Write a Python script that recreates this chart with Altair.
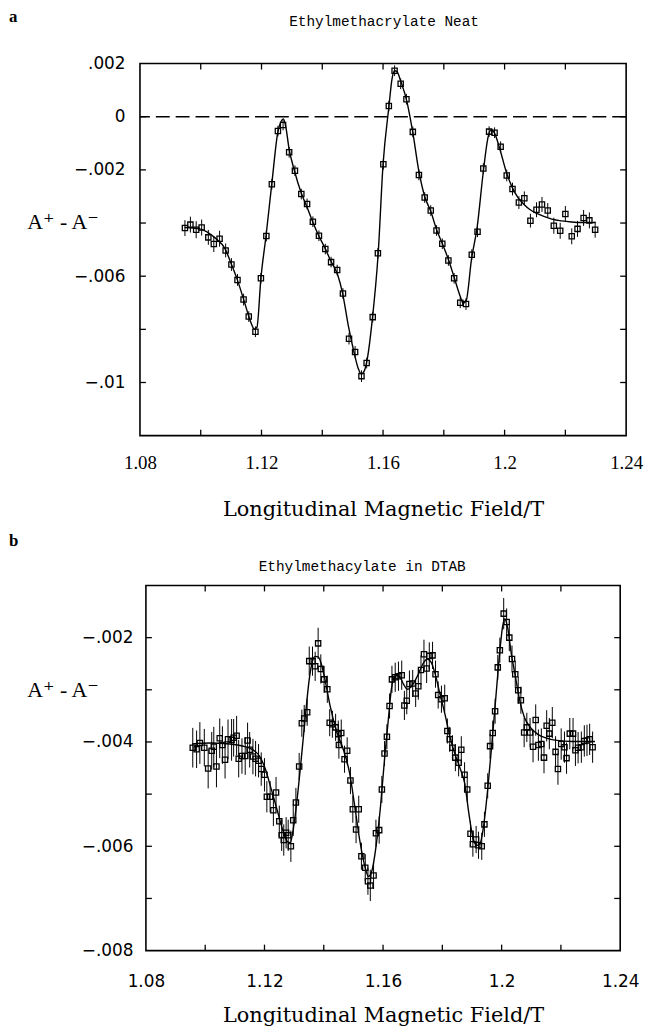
import altair as alt
import pandas as pd

# ---------------- Panel a : Ethylmethacrylate Neat ----------------
a_field = [1.0948,1.0966,1.0985,1.1003,1.1025,1.1043,1.1062,1.1082,1.1101,1.1121,
           1.1141,1.1158,1.1180,1.1198,1.1216,1.1234,1.1254,1.1271,1.1291,1.1310,
           1.1331,1.1350,1.1369,1.1389,1.1410,1.1429,1.1449,1.1468,1.1488,1.1508,
           1.1529,1.1546,1.1566,1.1583,1.1601,1.1619,1.1638,1.1658,1.1677,1.1698,
           1.1718,1.1737,1.1757,1.1776,1.1795,1.1815,1.1834,1.1854,1.1873,1.1892,
           1.1911,1.1930,1.1949,1.1967,1.1987,1.2007,1.2026,1.2047,1.2065,1.2085,
           1.2105,1.2123,1.2142,1.2162,1.2183,1.2200,1.2221,1.2240,1.2260,1.2279,
           1.2298]
a_value = [-0.00419,-0.00406,-0.00425,-0.00417,-0.00454,-0.00479,-0.00459,-0.00503,-0.00556,-0.00614,
           -0.00688,-0.00752,-0.00809,-0.00608,-0.00449,-0.00254,-0.00054,-0.00031,-0.00134,-0.00203,
           -0.00291,-0.00328,-0.00395,-0.00448,-0.00498,-0.00547,-0.00577,-0.00665,-0.00835,-0.00885,
           -0.00976,-0.00927,-0.00754,-0.00514,-0.00179,0.00040,0.00173,0.00124,0.00066,-0.00057,
           -0.00219,-0.00304,-0.00353,-0.00428,-0.00478,-0.00541,-0.00608,-0.00700,-0.00705,-0.00519,
           -0.00433,-0.00195,-0.00056,-0.00060,-0.00113,-0.00221,-0.00272,-0.00323,-0.00307,-0.00391,
           -0.00350,-0.00330,-0.00353,-0.00410,-0.00429,-0.00366,-0.00450,-0.00422,-0.00381,-0.00390,
           -0.00425]
a_error = [0.0003,0.0003,0.00032,0.0003,0.00028,0.0003,0.0003,0.00026,0.00024,0.00022,
           0.00022,0.0002,0.0002,0.0002,0.0002,0.0002,0.0002,0.0002,0.0002,0.0002,
           0.0002,0.0002,0.0002,0.0002,0.0002,0.0002,0.0002,0.0002,0.00022,0.00022,
           0.00022,0.0002,0.0002,0.0002,0.0002,0.0002,0.0002,0.0002,0.0002,0.0002,
           0.0002,0.0002,0.0002,0.0002,0.0002,0.0002,0.0002,0.0002,0.00022,0.0002,
           0.0002,0.0002,0.0002,0.0002,0.0002,0.00022,0.00024,0.00024,0.00026,0.00026,
           0.00028,0.00028,0.00028,0.0003,0.0003,0.0003,0.0003,0.0003,0.0003,0.0003,
           0.0003]
a_fit_field = [1.0947,1.0996,1.1045,1.1081,1.1100,1.1120,1.1140,1.1156,1.1166,1.1176,
               1.1185,1.1198,1.1215,1.1234,1.1254,1.1264,1.1272,1.1280,1.1290,1.1309,
               1.1329,1.1349,1.1368,1.1388,1.1411,1.1427,1.1450,1.1466,1.1486,1.1505,
               1.1518,1.1528,1.1538,1.1548,1.1564,1.1584,1.1600,1.1620,1.1629,1.1638,
               1.1646,1.1659,1.1678,1.1698,1.1718,1.1737,1.1757,1.1776,1.1796,1.1816,
               1.1835,1.1855,1.1864,1.1874,1.1891,1.1910,1.1930,1.1946,1.1956,1.1966,
               1.1985,1.2005,1.2024,1.2044,1.2064,1.2083,1.2106,1.2129,1.2155,1.2188,
               1.2220,1.2253,1.2299]
a_fit_value = [-0.00417,-0.00422,-0.00454,-0.00499,-0.00552,-0.00612,-0.00683,-0.00743,-0.00777,-0.00799,
               -0.00792,-0.00608,-0.00447,-0.00251,-0.00056,-0.00019,-0.00008,-0.00038,-0.00116,-0.00206,
               -0.00281,-0.00338,-0.00394,-0.00447,-0.00499,-0.00540,-0.00593,-0.00660,-0.00788,-0.00889,
               -0.00946,-0.00968,-0.00957,-0.00912,-0.00769,-0.00514,-0.00180,0.00045,0.00139,0.00173,
               0.00169,0.00131,0.00060,-0.00060,-0.00206,-0.00300,-0.00356,-0.00424,-0.00480,-0.00540,
               -0.00608,-0.00679,-0.00702,-0.00690,-0.00537,-0.00413,-0.00206,-0.00075,-0.00049,-0.00060,
               -0.00124,-0.00206,-0.00263,-0.00304,-0.00330,-0.00349,-0.00364,-0.00375,-0.00385,-0.00392,
               -0.00396,-0.00398,-0.00398]

# ---------------- Panel b : Ethylmethacylate in DTAB ----------------
b_field = [1.0958,1.0971,1.0982,1.0997,1.1010,1.1022,1.1029,1.1038,1.1049,1.1058,
           1.1067,1.1077,1.1089,1.1096,1.1106,1.1113,1.1124,1.1135,1.1143,1.1150,
           1.1161,1.1170,1.1180,1.1189,1.1200,1.1208,1.1219,1.1230,1.1239,1.1250,
           1.1258,1.1265,1.1273,1.1280,1.1289,1.1297,1.1306,1.1317,1.1326,1.1334,
           1.1344,1.1351,1.1362,1.1371,1.1381,1.1390,1.1401,1.1412,1.1420,1.1429,
           1.1440,1.1449,1.1451,1.1459,1.1470,1.1479,1.1490,1.1498,1.1509,1.1518,
           1.1527,1.1540,1.1549,1.1557,1.1568,1.1576,1.1587,1.1596,1.1605,1.1613,
           1.1622,1.1630,1.1641,1.1652,1.1663,1.1672,1.1680,1.1689,1.1700,1.1710,
           1.1719,1.1728,1.1738,1.1747,1.1756,1.1767,1.1777,1.1786,1.1797,1.1808,
           1.1817,1.1825,1.1834,1.1844,1.1855,1.1864,1.1875,1.1884,1.1895,1.1903,
           1.1914,1.1922,1.1933,1.1942,1.1953,1.1961,1.1970,1.1978,1.1987,1.1994,
           1.2007,1.2017,1.2026,1.2035,1.2046,1.2056,1.2065,1.2076,1.2085,1.2096,
           1.2106,1.2115,1.2124,1.2134,1.2143,1.2152,1.2161,1.2171,1.2182,1.2190,
           1.2201,1.2212,1.2219,1.2230,1.2241,1.2249,1.2258,1.2269,1.2279,1.2288,
           1.2297,1.2307]
b_value = [-0.00411,-0.00414,-0.00402,-0.00411,-0.00451,-0.00417,-0.00409,-0.00447,-0.00393,-0.00406,
           -0.00434,-0.00395,-0.00396,-0.00392,-0.00388,-0.00432,-0.00427,-0.00427,-0.00397,-0.00415,
           -0.00428,-0.00432,-0.00436,-0.00452,-0.00463,-0.00505,-0.00505,-0.00531,-0.00497,-0.00552,
           -0.00579,-0.00588,-0.00574,-0.00579,-0.00600,-0.00550,-0.00516,-0.00447,-0.00364,-0.00355,
           -0.00343,-0.00245,-0.00245,-0.00255,-0.00211,-0.00260,-0.00280,-0.00299,-0.00363,-0.00366,
           -0.00372,-0.00385,-0.00406,-0.00383,-0.00433,-0.00417,-0.00474,-0.00529,-0.00568,-0.00529,
           -0.00619,-0.00641,-0.00667,-0.00675,-0.00656,-0.00575,-0.00569,-0.00491,-0.00422,-0.00390,
           -0.00331,-0.00280,-0.00276,-0.00274,-0.00272,-0.00330,-0.00321,-0.00289,-0.00288,-0.00307,
           -0.00293,-0.00262,-0.00232,-0.00259,-0.00235,-0.00234,-0.00270,-0.00310,-0.00318,-0.00316,
           -0.00379,-0.00395,-0.00411,-0.00430,-0.00440,-0.00415,-0.00463,-0.00491,-0.00576,-0.00596,
           -0.00587,-0.00598,-0.00600,-0.00558,-0.00484,-0.00408,-0.00383,-0.00341,-0.00257,-0.00224,
           -0.00154,-0.00170,-0.00200,-0.00241,-0.00270,-0.00301,-0.00320,-0.00382,-0.00372,-0.00382,
           -0.00409,-0.00358,-0.00406,-0.00404,-0.00430,-0.00369,-0.00384,-0.00363,-0.00419,-0.00452,
           -0.00404,-0.00410,-0.00431,-0.00384,-0.00384,-0.00416,-0.00411,-0.00410,-0.00398,-0.00397,
           -0.00395,-0.00410]
b_error = [0.00038,0.00036,0.0004,0.00036,0.00038,0.00036,0.00038,0.0004,0.00038,0.00036,
           0.00036,0.00038,0.0004,0.00036,0.00038,0.00036,0.00034,0.00036,0.00034,0.00034,
           0.00034,0.00034,0.00032,0.00032,0.00032,0.0003,0.0003,0.0003,0.0003,0.0003,
           0.0003,0.0003,0.0003,0.0003,0.0003,0.0003,0.00028,0.00026,0.00026,0.00026,
           0.00026,0.00028,0.00028,0.00028,0.0003,0.00028,0.00026,0.00026,0.00026,0.00026,
           0.00026,0.00026,0.00026,0.00026,0.00026,0.00026,0.00026,0.00026,0.00026,0.00026,
           0.00026,0.00026,0.00026,0.0003,0.00026,0.00026,0.00026,0.00026,0.00024,0.00024,
           0.00024,0.00026,0.00028,0.00028,0.00028,0.00028,0.00026,0.00026,0.00026,0.00026,
           0.00026,0.00028,0.00028,0.00028,0.00026,0.00026,0.00026,0.00026,0.00026,0.00026,
           0.00024,0.00024,0.00024,0.00026,0.00026,0.00026,0.00024,0.00024,0.00024,0.00024,
           0.00026,0.00026,0.00026,0.00024,0.00024,0.00024,0.00024,0.00024,0.00024,0.00024,
           0.0003,0.00026,0.00026,0.00026,0.00026,0.00026,0.00026,0.00028,0.00028,0.00028,
           0.0003,0.0003,0.0003,0.0003,0.0003,0.0003,0.0003,0.0003,0.0003,0.0003,
           0.0003,0.0003,0.0003,0.0003,0.0003,0.0003,0.0003,0.0003,0.0003,0.0003,
           0.0003,0.0003]
b_fit_field = [1.0956,1.1016,1.1083,1.1150,1.1183,1.1203,1.1223,1.1244,1.1264,1.1277,
               1.1287,1.1297,1.1310,1.1324,1.1337,1.1351,1.1361,1.1371,1.1381,1.1391,
               1.1404,1.1421,1.1444,1.1468,1.1488,1.1505,1.1521,1.1538,1.1551,1.1562,
               1.1575,1.1592,1.1605,1.1618,1.1628,1.1642,1.1655,1.1669,1.1682,1.1699,
               1.1719,1.1736,1.1749,1.1762,1.1776,1.1792,1.1809,1.1826,1.1843,1.1859,
               1.1876,1.1890,1.1903,1.1916,1.1926,1.1940,1.1953,1.1967,1.1980,1.1993,
               1.2003,1.2010,1.2020,1.2033,1.2047,1.2060,1.2077,1.2097,1.2121,1.2154,
               1.2187,1.2238,1.2315]
b_fit_value = [-0.00404,-0.00402,-0.00404,-0.00412,-0.00427,-0.00452,-0.00491,-0.00533,-0.00573,-0.00591,
               -0.00593,-0.00568,-0.00510,-0.00433,-0.00356,-0.00280,-0.00247,-0.00236,-0.00237,-0.00249,
               -0.00280,-0.00330,-0.00381,-0.00418,-0.00462,-0.00525,-0.00587,-0.00637,-0.00658,-0.00648,
               -0.00606,-0.00520,-0.00433,-0.00356,-0.00299,-0.00272,-0.00274,-0.00289,-0.00299,-0.00291,
               -0.00270,-0.00249,-0.00241,-0.00247,-0.00270,-0.00308,-0.00347,-0.00391,-0.00424,-0.00449,
               -0.00481,-0.00539,-0.00583,-0.00598,-0.00596,-0.00558,-0.00491,-0.00404,-0.00318,-0.00232,
               -0.00180,-0.00164,-0.00180,-0.00232,-0.00276,-0.00318,-0.00353,-0.00372,-0.00385,-0.00393,
               -0.00397,-0.00399,-0.00399]

# axis ticks / labels
x_labels = [1.08, 1.12, 1.16, 1.2, 1.24]
x_minor = [1.10, 1.12, 1.14, 1.16, 1.18, 1.20, 1.22]
a_y_labels = [0.002, 0, -0.002, -0.006, -0.01]
a_y_ticks = [0, -0.002, -0.004, -0.006, -0.008, -0.01]
b_y_labels = [-0.002, -0.004, -0.006, -0.008]
b_y_ticks = [-0.002, -0.003, -0.004, -0.005, -0.006, -0.007]

Y_EXPR = ("datum.value == 0 ? '0' : replace(replace(format(datum.value, '.3~f'), '0.', '.'), '-', '\u2212')")
X_EXPR = "format(datum.value, '.2~f')"
SERIF = "Liberation Serif, DejaVu Serif"


def panel(field, value, error, fit_field, fit_value, ydom, ylabels, yticks,
          width, height, title, title_x, title_y, tag, tag_x, tag_y,
          xlabfont, xlabsize, xlabpad, ylabpad, ytitle_x, ytitle_y,
          xtitle_x, xtitle_y, zero_line):
    pts = pd.DataFrame({"B": field, "V": value, "E": error})
    pts["lo"] = pts["V"] - pts["E"]
    pts["hi"] = pts["V"] + pts["E"]
    fit = pd.DataFrame({"B": fit_field, "V": fit_value})

    xs = alt.Scale(domain=[1.08, 1.24], nice=False, zero=False)
    ys = alt.Scale(domain=ydom, nice=False, zero=False)

    xaxis = alt.Axis(values=x_labels, labelExpr=X_EXPR, grid=False, domain=False,
                     ticks=False, tickSize=0, labelPadding=xlabpad,
                     labelFont=xlabfont, labelFontSize=xlabsize, labelColor="black",
                     labelFlush=False, labelOverlap=False,
                     title="Longitudinal Magnetic Field/T", titleFont="DejaVu Serif",
                     titleFontSize=21, titleFontWeight="normal", titleColor="black",
                     titleX=xtitle_x, titleY=xtitle_y, titleAlign="center",
                     titleBaseline="alphabetic")
    yaxis = alt.Axis(values=ylabels, labelExpr=Y_EXPR, grid=False, domain=False,
                     ticks=False, tickSize=0, labelPadding=ylabpad,
                     labelFont="DejaVu Sans", labelFontSize=17, labelColor="black",
                     labelFlush=False, labelOverlap=False,
                     title="A\u207a - A\u207b", titleFont=SERIF,
                     titleFontSize=22, titleFontWeight="normal", titleColor="black",
                     titleAngle=0, titleX=ytitle_x, titleY=ytitle_y,
                     titleAlign="center", titleBaseline="middle")

    X = lambda f: alt.X(f, scale=xs, axis=xaxis)
    Y = lambda f: alt.Y(f, scale=ys, axis=yaxis)

    base = alt.Chart(fit).mark_line(color="black", strokeWidth=1.4,
                                    interpolate="monotone").encode(
        x=X("B:Q"), y=Y("V:Q"))
    bars = alt.Chart(pts).mark_rule(color="black", strokeWidth=1).encode(
        x=X("B:Q"), y=Y("lo:Q"), y2="hi:Q")
    marks = alt.Chart(pts).mark_point(shape="square", filled=False, size=28,
                                      strokeWidth=1.3, color="black",
                                      opacity=1).encode(x=X("B:Q"), y=Y("V:Q"))
    ydf = pd.DataFrame({"V": yticks})
    xdf = pd.DataFrame({"B": x_minor})
    tick_style = dict(color="black", strokeWidth=1.3)
    lt = alt.Chart(ydf).mark_rule(**tick_style).encode(
        y=Y("V:Q"), x=alt.value(0), x2=alt.value(6))
    rt = alt.Chart(ydf).mark_rule(**tick_style).encode(
        y=Y("V:Q"), x=alt.value(width - 6), x2=alt.value(width))
    bt = alt.Chart(xdf).mark_rule(**tick_style).encode(
        x=X("B:Q"), y=alt.value(height - 6), y2=alt.value(height))
    tt = alt.Chart(xdf).mark_rule(**tick_style).encode(
        x=X("B:Q"), y=alt.value(0), y2=alt.value(6))
    tagc = alt.Chart(pd.DataFrame({"t": [tag]})).mark_text(
        font=SERIF, fontSize=17, fontWeight="bold", align="left",
        baseline="alphabetic", color="black").encode(
        text="t:N", x=alt.value(tag_x), y=alt.value(tag_y))
    titc = alt.Chart(pd.DataFrame({"t": [title]})).mark_text(
        font="Liberation Mono", fontSize=14.5, align="center",
        baseline="alphabetic", color="black").encode(
        text="t:N", x=alt.value(title_x), y=alt.value(title_y))

    layers = [base, bars, marks, lt, rt, bt, tt, tagc, titc]
    if zero_line:
        zl = alt.Chart(pd.DataFrame({"V": [0]})).mark_rule(
            color="black", strokeWidth=1.6, strokeDash=[14, 6]).encode(y=Y("V:Q"))
        layers.insert(1, zl)

    return alt.layer(*layers).properties(width=width, height=height)


pa = panel(a_field, a_value, a_error, a_fit_field, a_fit_value, [-0.012, 0.002],
           a_y_labels, a_y_ticks, 490, 375, "Ethylmethacrylate Neat", 246, -38,
           "a", -132, -42, SERIF, 19, 18, 15, -78, 159, 245, 80, True)
pb = panel(b_field, b_value, b_error, b_fit_field, b_fit_value, [-0.008, -0.001],
           b_y_labels, b_y_ticks, 478, 368, "Ethylmethacylate in DTAB", 218, -15,
           "b", -138, -40, "DejaVu Sans", 17, 23, 13, -84, 105, 239, 71, False)

chart = alt.vconcat(pa, pb, spacing=151, bounds="flush", center=True).properties(
    padding={"left": 0, "top": -5, "right": 0, "bottom": 0}
).configure_view(stroke="black", strokeWidth=1.6)

chart.save("out.html", embed_options={"renderer": "svg", "actions": False})
